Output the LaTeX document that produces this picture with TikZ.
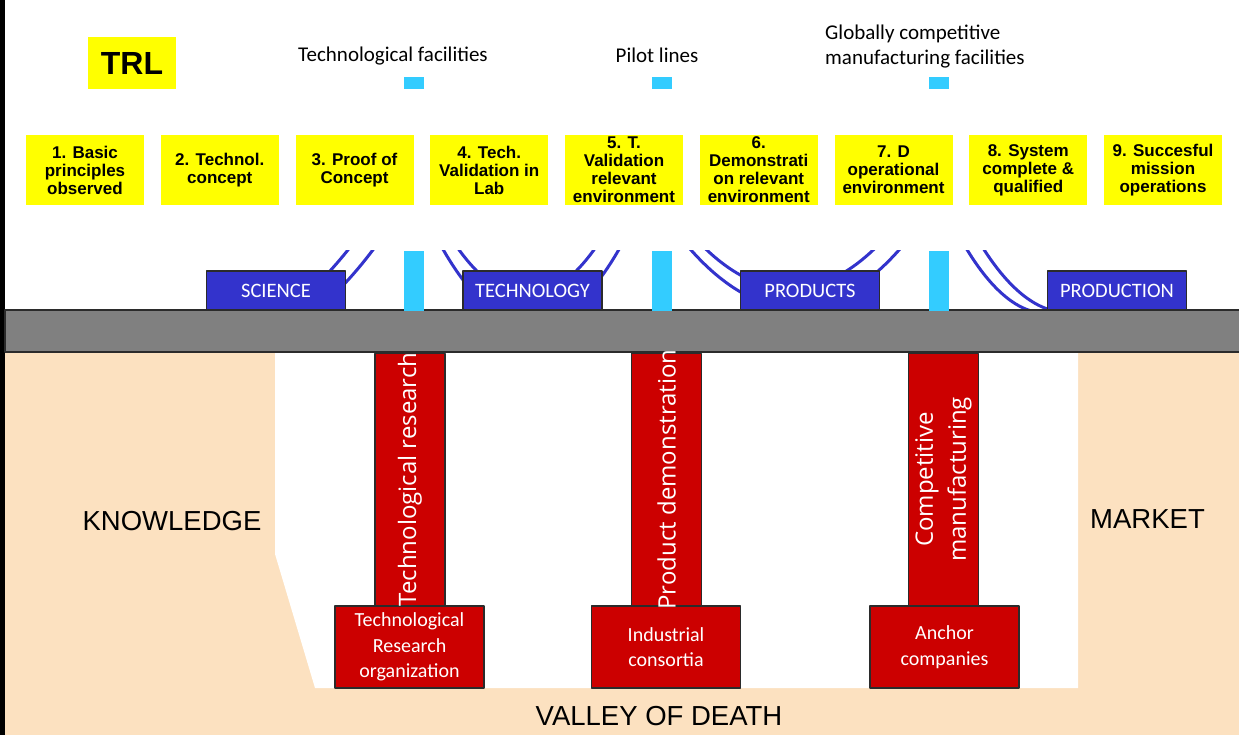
\documentclass[tikz,border=0pt]{standalone}
\usepackage{fontspec}
\usepackage{xcolor}
\usepackage{tikz}
\setmainfont{Liberation Sans}
\newfontfamily\calfont{Carlito}
\newfontfamily\opfont{Open Sans}
\definecolor{trlyellow}{HTML}{FFFF00}
\definecolor{faccyan}{HTML}{33CCFF}
\definecolor{stageblue}{HTML}{3333CC}
\definecolor{bargray}{HTML}{808080}
\definecolor{pillarred}{HTML}{CC0000}
\definecolor{sand}{HTML}{FCE1C0}
\definecolor{rim}{HTML}{2B2B2B}
\tikzset{
  trl/.style={fill=trlyellow, inner sep=0pt, minimum width=88pt, minimum height=52pt, font=\fontsize{32}{32}\selectfont\bfseries},
  lvl/.style={fill=trlyellow, inner sep=0pt, minimum width=118pt, minimum height=70pt, align=center, font=\fontsize{17}{18}\selectfont\bfseries},
  fac/.style={inner sep=0pt, align=left, font=\calfont\fontsize{21}{25}\selectfont},
  facsq/.style={fill=faccyan, inner sep=0pt, minimum width=20pt, minimum height=12pt},
  facbar/.style={fill=faccyan, inner sep=0pt, minimum width=20pt, minimum height=60pt},
  stage/.style={fill=stageblue, draw=rim, line width=1.5pt, inner sep=0pt, minimum width=139pt, minimum height=39pt, text=white, font=\calfont\fontsize{20.5}{20.5}\selectfont},
  cable/.style={draw=stageblue, line width=3pt},
  band/.style={fill=bargray, draw=rim, line width=1.5pt},
  pillar/.style={fill=pillarred, draw=rim, line width=1.2pt, inner sep=0pt, minimum width=70pt, minimum height=252pt},
  base/.style={fill=pillarred, draw=rim, line width=1.2pt, inner sep=0pt, minimum width=149pt, minimum height=82pt, align=center, text=white, font=\calfont\fontsize{20}{25.5}\selectfont},
  vlab/.style={rotate=90, inner sep=0pt, align=center, text=white, font=\opfont\fontsize{24}{33}\selectfont},
  zone/.style={inner sep=0pt, font=\fontsize{27.5}{27.5}\selectfont}
}

\begin{document}
\begin{tikzpicture}[x=1pt, y=-1pt, line join=round]
  \useasboundingbox (0,0) rectangle (1239,735);
  \fill[black] (0,0) rectangle (5,735);
  % lower ground and valley
  \fill[sand] (5,352) rectangle (1239,735);
  \fill[white] (275,352) -- (275,554) -- (315,688) -- (1078,688) -- (1078,352) -- cycle;
  \node[trl] (trl) at (132,63) {TRL};
  \node[fac] (tf) at (393,56) {Technological facilities};
  \node[fac] (pl) at (657,55) {Pilot lines};
  \node[fac, anchor=west] (gm) at (825,47) {Globally competitive\\manufacturing facilities};
  \node[facsq] (tfs) at (414,83) {};
  \node[facsq] (pls) at (661.5,83) {};
  \node[facsq] (gms) at (939,83) {};
  \node[lvl] (l1) at (85,170) {1. Basic\\principles\\observed};
  \node[lvl] (l2) at (219.75,170) {2. Technol.\\concept};
  \node[lvl] (l3) at (354.5,170) {3. Proof of\\Concept};
  \node[lvl] (l4) at (489.25,170) {4. Tech.\\Validation in\\Lab};
  \node[lvl] (l5) at (624,170) {5. T.\\Validation\\relevant\\environment};
  \node[lvl] (l6) at (758.75,170) {6.\\Demonstrati\\on relevant\\environment};
  \node[lvl] (l7) at (893.5,170) {7. D\\operational\\environment};
  \node[lvl] (l8) at (1028.25,170) {8. System\\complete \&\\qualified};
  \node[lvl] (l9) at (1163,170) {9. Succesful\\mission\\operations};
  \begin{scope}
    \clip (5,251) rectangle (1239,352);
    \draw[cable] (220,350) parabola (380.2,240);
    \draw[cable] (185,350) parabola (355.8,240);
    \draw[cable] (437.8,240) parabola bend (531,325) (624.2,240);
    \draw[cable] (452.3,240) parabola bend (526.5,296) (600.7,240);
    \draw[cable] (682.5,240) parabola bend (795,308) (907.5,240);
    \draw[cable] (696.9,240) parabola bend (790,289) (883.1,240);
    \draw[cable] (1045,313) parabola (961.4,240);
    \draw[cable] (1065,312) parabola (978.1,240);
  \end{scope}
  \draw[band] (5,310) rectangle (1242,352);
  \node[stage] (sci) at (276,290.5) {SCIENCE};
  \node[stage] (tech) at (532.5,290.5) {TECHNOLOGY};
  \node[stage] (prod) at (810,290.5) {PRODUCTS};
  \node[stage] (prodn) at (1117,290.5) {PRODUCTION};
  \node[facbar] (tfb) at (414,281) {};
  \node[facbar] (plb) at (661.5,281) {};
  \node[facbar] (gmb) at (939,281) {};
  \node[base] (b1) at (409.5,647) {Technological\\Research\\organization};
  \node[base] (b2) at (666,647) {Industrial\\consortia};
  \node[base] (b3) at (944.5,647) {Anchor\\companies};
  \node[pillar] (p1) at (410,479.5) {};
  \node[pillar] (p2) at (666.5,479.5) {};
  \node[pillar] (p3) at (943.5,479.5) {};
  \node[vlab] (p1t) at (p1.center) {Technological research};
  \node[vlab] (p2t) at (p2.center) {Product demonstration};
  \node[vlab] (p3t) at (p3.center) {Competitive\\manufacturing};
  \node[zone] (know) at (172,521) {KNOWLEDGE};
  \node[zone] (mkt) at (1147.5,519) {MARKET};
  \node[zone] (vod) at (659,716) {VALLEY OF DEATH};
\end{tikzpicture}
\end{document}
